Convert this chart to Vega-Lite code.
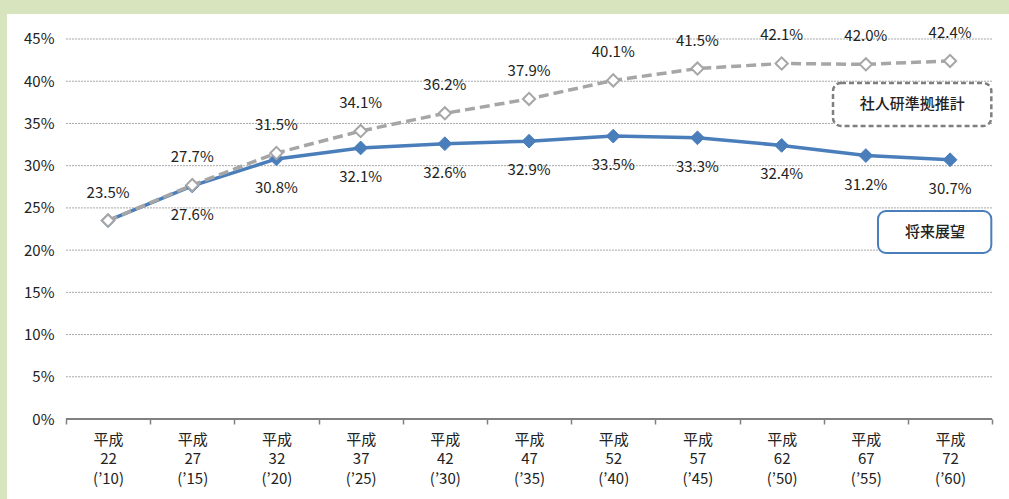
{
  "$schema": "https://vega.github.io/schema/vega-lite/v6.json",
  "width": 1002,
  "height": 485,
  "autosize": {"type": "none"},
  "padding": {"left": 7, "top": 14, "right": 0, "bottom": 0},
  "background": "#d7e4bd",
  "config": {
    "view": {"stroke": null, "fill": "white"},
    "font": "Noto Sans CJK JP",
    "text": {"font": "Noto Sans CJK JP", "fontSize": 15, "color": "#222222"}
  },
  "data": {
    "values": [
      {"year": 2010, "series": "将来展望", "value": 0.235},
      {"year": 2015, "series": "将来展望", "value": 0.276},
      {"year": 2020, "series": "将来展望", "value": 0.308},
      {"year": 2025, "series": "将来展望", "value": 0.321},
      {"year": 2030, "series": "将来展望", "value": 0.326},
      {"year": 2035, "series": "将来展望", "value": 0.329},
      {"year": 2040, "series": "将来展望", "value": 0.335},
      {"year": 2045, "series": "将来展望", "value": 0.333},
      {"year": 2050, "series": "将来展望", "value": 0.324},
      {"year": 2055, "series": "将来展望", "value": 0.312},
      {"year": 2060, "series": "将来展望", "value": 0.307},
      {"year": 2010, "series": "社人研準拠推計", "value": 0.235},
      {"year": 2015, "series": "社人研準拠推計", "value": 0.277},
      {"year": 2020, "series": "社人研準拠推計", "value": 0.315},
      {"year": 2025, "series": "社人研準拠推計", "value": 0.341},
      {"year": 2030, "series": "社人研準拠推計", "value": 0.362},
      {"year": 2035, "series": "社人研準拠推計", "value": 0.379},
      {"year": 2040, "series": "社人研準拠推計", "value": 0.401},
      {"year": 2045, "series": "社人研準拠推計", "value": 0.415},
      {"year": 2050, "series": "社人研準拠推計", "value": 0.421},
      {"year": 2055, "series": "社人研準拠推計", "value": 0.420},
      {"year": 2060, "series": "社人研準拠推計", "value": 0.424}
    ]
  },
  "layer": [
    {
      "data": {"values": [{"g": 0.05}, {"g": 0.1}, {"g": 0.15}, {"g": 0.2}, {"g": 0.25}, {"g": 0.3}, {"g": 0.35}, {"g": 0.4}, {"g": 0.45}]},
      "mark": {"type": "rule", "stroke": "#a6a6a6", "strokeWidth": 1, "strokeDash": [2, 1]},
      "encoding": {
        "x": {
          "datum": 2007.5,
          "type": "quantitative",
          "scale": {"domain": [2004, 2063.5], "nice": false, "zero": false},
          "axis": {
            "orient": "bottom",
            "offset": -80,
            "title": null,
            "grid": false,
            "domain": false,
            "values": [2007.5, 2012.5, 2017.5, 2022.5, 2027.5, 2032.5, 2037.5, 2042.5, 2047.5, 2052.5, 2057.5, 2062.5],
            "ticks": true,
            "tickSize": 5,
            "tickColor": "#808080",
            "tickWidth": 1.5,
            "labelOffset": 42.1,
            "labelOverlap": false,
            "labelFlush": false,
            "labelBound": false,
            "labelBaseline": "top",
            "labelPadding": 8,
            "labelLineHeight": 19.5,
            "labelFont": "Noto Sans CJK JP",
            "labelFontSize": 15,
            "labelColor": "#222222",
            "labelExpr": "datum.value > 2060 ? '' : ['平成', '' + (datum.value + 2.5 - 1988), '(’' + substring('' + (datum.value + 2.5), 2, 4) + ')']"
          }
        },
        "x2": {"datum": 2062.5},
        "y": {
          "field": "g",
          "type": "quantitative",
          "scale": {"domain": [-0.0947, 0.4796], "nice": false, "zero": false},
          "axis": {
            "orient": "left",
            "offset": -59,
            "title": null,
            "grid": false,
            "domain": false,
            "ticks": false,
            "values": [0, 0.05, 0.1, 0.15, 0.2, 0.25, 0.3, 0.35, 0.4, 0.45],
            "format": ".0%",
            "labelPadding": 12,
            "labelFont": "Noto Sans CJK JP",
            "labelFontSize": 15,
            "labelColor": "#222222"
          }
        }
      }
    },
    {
      "data": {"values": [{"g": 0}]},
      "mark": {"type": "rule", "stroke": "#808080", "strokeWidth": 2},
      "encoding": {
        "x": {"datum": 2007.5, "type": "quantitative", "scale": {"domain": [2004, 2063.5], "nice": false, "zero": false}},
        "x2": {"datum": 2062.5},
        "y": {"field": "g", "type": "quantitative", "scale": {"domain": [-0.0947, 0.4796], "nice": false, "zero": false}}
      }
    },
    {
      "encoding": {
        "x": {"field": "year", "type": "quantitative", "scale": {"domain": [2004, 2063.5], "nice": false, "zero": false}},
        "y": {"field": "value", "type": "quantitative", "scale": {"domain": [-0.0947, 0.4796], "nice": false, "zero": false}}
      },
      "layer": [
        {
          "transform": [{"filter": "datum.series === '将来展望'"}],
          "mark": {"type": "line", "stroke": "#4a7ebb", "strokeWidth": 3.5}
        },
        {
          "transform": [{"filter": "datum.series === '将来展望'"}],
          "mark": {"type": "point", "shape": "diamond", "size": 190, "filled": true, "fill": "#4a7ebb", "stroke": "#4a7ebb", "strokeWidth": 1, "opacity": 1}
        },
        {
          "transform": [{"filter": "datum.series === '社人研準拠推計'"}],
          "mark": {"type": "line", "stroke": "#a6a6a6", "strokeWidth": 3.5, "strokeDash": [10, 5]}
        },
        {
          "transform": [{"filter": "datum.series === '社人研準拠推計'"}],
          "mark": {"type": "point", "shape": "diamond", "size": 150, "filled": true, "fill": "white", "stroke": "#a6a6a6", "strokeWidth": 2, "opacity": 1}
        },
        {
          "transform": [{"filter": "datum.series === '将来展望' && datum.year > 2010"}],
          "mark": {"type": "text", "dy": 29, "align": "center", "baseline": "middle"},
          "encoding": {"text": {"field": "value", "type": "quantitative", "format": ".1%"}}
        },
        {
          "transform": [{"filter": "datum.series === '社人研準拠推計'"}],
          "mark": {"type": "text", "dy": -28, "align": "center", "baseline": "middle"},
          "encoding": {"text": {"field": "value", "type": "quantitative", "format": ".1%"}}
        }
      ]
    },
    {
      "data": {"values": [{"name": "社人研準拠推計"}]},
      "mark": {"type": "rect", "fill": "white", "stroke": "#7f7f7f", "strokeWidth": 2.5, "strokeDash": [5, 3], "cornerRadius": 8},
      "encoding": {
        "x": {"datum": 2053.05, "type": "quantitative", "scale": {"domain": [2004, 2063.5], "nice": false, "zero": false}},
        "x2": {"datum": 2062.45},
        "y": {"datum": 0.3979, "type": "quantitative", "scale": {"domain": [-0.0947, 0.4796], "nice": false, "zero": false}},
        "y2": {"datum": 0.347}
      }
    },
    {
      "data": {"values": [{"name": "社人研準拠推計"}]},
      "mark": {"type": "text", "align": "center", "baseline": "middle", "fontSize": 15, "fontWeight": 500},
      "encoding": {
        "x": {"datum": 2057.75, "type": "quantitative", "scale": {"domain": [2004, 2063.5], "nice": false, "zero": false}},
        "y": {"datum": 0.3725, "type": "quantitative", "scale": {"domain": [-0.0947, 0.4796], "nice": false, "zero": false}},
        "text": {"field": "name"}
      }
    },
    {
      "data": {"values": [{"name": "将来展望"}]},
      "mark": {"type": "rect", "fill": "white", "stroke": "#4a7ebb", "strokeWidth": 2, "cornerRadius": 8},
      "encoding": {
        "x": {"datum": 2055.72, "type": "quantitative", "scale": {"domain": [2004, 2063.5], "nice": false, "zero": false}},
        "x2": {"datum": 2062.45},
        "y": {"datum": 0.2463, "type": "quantitative", "scale": {"domain": [-0.0947, 0.4796], "nice": false, "zero": false}},
        "y2": {"datum": 0.1966}
      }
    },
    {
      "data": {"values": [{"name": "将来展望"}]},
      "mark": {"type": "text", "align": "center", "baseline": "middle", "fontSize": 15, "fontWeight": 500},
      "encoding": {
        "x": {"datum": 2059.1, "type": "quantitative", "scale": {"domain": [2004, 2063.5], "nice": false, "zero": false}},
        "y": {"datum": 0.2215, "type": "quantitative", "scale": {"domain": [-0.0947, 0.4796], "nice": false, "zero": false}},
        "text": {"field": "name"}
      }
    }
  ]
}
